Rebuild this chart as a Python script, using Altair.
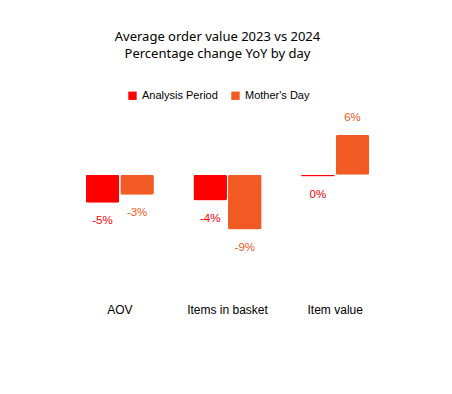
import altair as alt
import pandas as pd

categories = ["AOV", "Items in basket", "Item value"]
series = ["Analysis Period", "Mother's Day"]
analysis_values = [-4.55, -4.2, -0.3]
mothers_day_values = [-3.25, -8.9, 6.45]
colors = ["#ff0000", "#f15a22"]

rows = []
for c, a, m in zip(categories, analysis_values, mothers_day_values):
    rows.append({"category": c, "series": series[0], "value": a})
    rows.append({"category": c, "series": series[1], "value": m})
df = pd.DataFrame(rows)
df["label"] = df["value"].apply(lambda v: f"{round(v)}%")

FONT = "Liberation Sans"

x = alt.X("category:N", sort=categories, title=None,
          scale=alt.Scale(paddingInner=0.367, paddingOuter=0.183),
          axis=alt.Axis(labelAngle=0, domain=False, ticks=False, tickSize=0,
                        labelPadding=6, labelFontSize=12, labelFont=FONT,
                        labelColor="#000000", grid=False))
xo = alt.XOffset("series:N", sort=series, scale=alt.Scale(paddingInner=0.03))
y = alt.Y("value:Q", scale=alt.Scale(domain=[-20, 10]), axis=None)
color = alt.Color("series:N", sort=series,
                  scale=alt.Scale(domain=series, range=colors),
                  legend=alt.Legend(title=None, orient="none", direction="horizontal",
                                    legendX=61, legendY=-23, symbolType="square",
                                    symbolSize=70, symbolStrokeWidth=0,
                                    labelFontSize=11, labelFont=FONT,
                                    labelColor="#000000", columnPadding=12,
                                    symbolOpacity=1))

base = alt.Chart(df)
bars = base.mark_bar(cornerRadius=2).encode(x=x, xOffset=xo, y=y, color=color)

txt_color = alt.Color("series:N", sort=series,
                      scale=alt.Scale(domain=series, range=colors), legend=None)
neg = base.transform_filter("datum.value < 0").mark_text(
    baseline="top", dy=12, fontSize=11.5, font=FONT).encode(
    x=x, xOffset=xo, y=y, text="label:N", color=txt_color)
pos = base.transform_filter("datum.value >= 0").mark_text(
    baseline="bottom", dy=-12, fontSize=11.5, font=FONT).encode(
    x=x, xOffset=xo, y=y, text="label:N", color=txt_color)

chart = alt.layer(bars, neg, pos).properties(
    width=323, height=185, background="white",
    title=alt.TitleParams(["Average order value 2023 vs 2024", "Percentage change YoY by day"],
                          anchor="middle", fontSize=13, font="Noto Sans",
                          fontWeight="normal", color="#000000", offset=29,
                          lineHeight=17, dx=-10),
    autosize=alt.AutoSizeParams(type="none"),
    padding={"left": 58, "top": 105, "right": 50, "bottom": 60},
).configure_view(stroke=None, strokeWidth=0)

chart.save("out.html", embed_options={"renderer": "svg", "actions": False})
